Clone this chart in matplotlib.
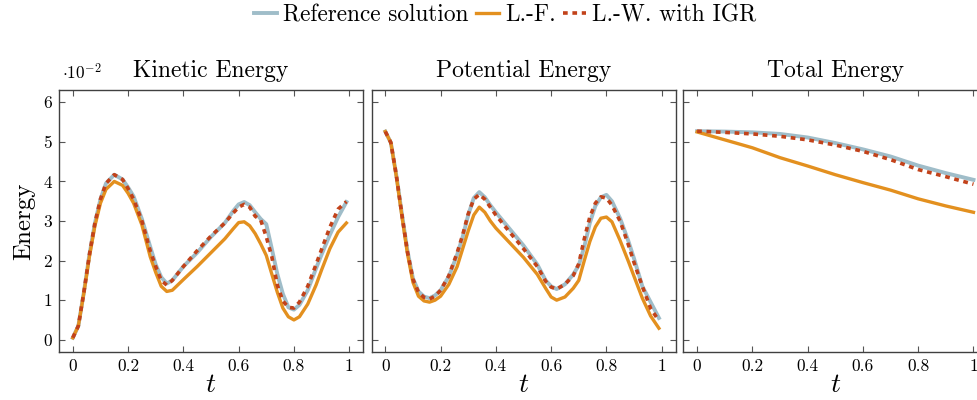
import matplotlib
matplotlib.use("Agg")
import matplotlib.pyplot as plt

plt.rcParams['font.family'] = 'serif'
plt.rcParams['font.serif'] = ['cmr10']
plt.rcParams['mathtext.fontset'] = 'cm'
plt.rcParams['axes.formatter.use_mathtext'] = True
plt.rcParams['axes.unicode_minus'] = False

# ---- data (energy values in units of 1e-2) ----
t_ke = [0.00, 0.02, 0.04, 0.06, 0.08, 0.10, 0.12, 0.15, 0.18, 0.20, 0.22, 0.25, 0.28, 0.30,
        0.32, 0.34, 0.36, 0.40, 0.45, 0.50, 0.55, 0.58, 0.60, 0.62, 0.64, 0.66, 0.68, 0.70,
        0.72, 0.74, 0.76, 0.78, 0.80, 0.82, 0.85, 0.88, 0.90, 0.93, 0.96, 0.99]
ke_ref = [0.05, 0.35, 1.20, 2.15, 2.95, 3.55, 3.95, 4.17, 4.05, 3.85, 3.62, 3.05, 2.35, 1.90,
          1.58, 1.42, 1.50, 1.85, 2.20, 2.60, 2.95, 3.25, 3.42, 3.48, 3.40, 3.22, 3.05, 2.92,
          2.30, 1.66, 1.16, 0.82, 0.76, 0.88, 1.25, 1.80, 2.15, 2.65, 3.10, 3.48]
ke_lf = [0.05, 0.35, 1.18, 2.10, 2.88, 3.45, 3.80, 4.00, 3.90, 3.70, 3.45, 2.90, 2.10, 1.70,
         1.35, 1.22, 1.25, 1.52, 1.85, 2.20, 2.55, 2.80, 2.96, 2.98, 2.88, 2.68, 2.42, 2.13,
         1.66, 1.20, 0.80, 0.58, 0.50, 0.58, 0.90, 1.38, 1.76, 2.30, 2.72, 2.95]
ke_igr = [0.05, 0.35, 1.20, 2.15, 2.95, 3.55, 3.95, 4.17, 4.05, 3.82, 3.55, 3.00, 2.25, 1.85,
          1.50, 1.38, 1.50, 1.85, 2.25, 2.62, 2.95, 3.20, 3.35, 3.42, 3.35, 3.12, 3.02, 2.60,
          2.10, 1.38, 0.98, 0.82, 0.80, 0.95, 1.35, 1.90, 2.28, 2.84, 3.30, 3.49]

t_pe = [0.00, 0.02, 0.04, 0.06, 0.08, 0.10, 0.12, 0.14, 0.16, 0.18, 0.20, 0.23, 0.26, 0.28,
        0.30, 0.32, 0.34, 0.36, 0.38, 0.40, 0.45, 0.50, 0.55, 0.58, 0.60, 0.62, 0.65, 0.68,
        0.70, 0.72, 0.74, 0.76, 0.78, 0.80, 0.82, 0.85, 0.88, 0.90, 0.93, 0.96, 0.99]
pe_ref = [5.26, 4.98, 4.15, 3.18, 2.25, 1.55, 1.22, 1.09, 1.05, 1.12, 1.25, 1.60, 2.15, 2.60,
          3.15, 3.58, 3.73, 3.60, 3.40, 3.22, 2.80, 2.38, 1.90, 1.50, 1.35, 1.28, 1.40, 1.65,
          1.88, 2.35, 2.95, 3.38, 3.60, 3.66, 3.50, 3.06, 2.48, 2.05, 1.35, 0.95, 0.55]
pe_lf = [5.26, 4.98, 4.12, 3.12, 2.18, 1.45, 1.10, 0.98, 0.95, 1.00, 1.10, 1.40, 1.85, 2.30,
         2.75, 3.15, 3.35, 3.22, 3.00, 2.82, 2.45, 2.08, 1.65, 1.30, 1.08, 1.00, 1.08, 1.30,
         1.50, 2.00, 2.48, 2.85, 3.07, 3.10, 2.98, 2.50, 1.97, 1.60, 1.05, 0.60, 0.29]
pe_igr = [5.26, 4.98, 4.15, 3.16, 2.23, 1.53, 1.20, 1.07, 1.03, 1.10, 1.25, 1.62, 2.20, 2.65,
          3.18, 3.55, 3.67, 3.55, 3.35, 3.15, 2.72, 2.30, 1.85, 1.48, 1.33, 1.28, 1.40, 1.62,
          1.92, 2.55, 3.10, 3.45, 3.61, 3.58, 3.40, 2.99, 2.39, 1.95, 1.35, 0.79, 0.48]

t_te = [0.0, 0.1, 0.2, 0.3, 0.4, 0.5, 0.6, 0.7, 0.8, 0.9, 1.0]
te_ref = [5.27, 5.26, 5.24, 5.20, 5.11, 4.97, 4.81, 4.63, 4.40, 4.21, 4.04]
te_lf = [5.25, 5.05, 4.85, 4.60, 4.39, 4.17, 3.97, 3.78, 3.56, 3.38, 3.22]
te_igr = [5.27, 5.24, 5.20, 5.14, 5.05, 4.92, 4.76, 4.55, 4.30, 4.12, 3.93]

titles = ["Kinetic Energy", "Potential Energy", "Total Energy"]
series_names = ["Reference solution", "L.-F.", "L.-W. with IGR"]
xticks = [0, 0.2, 0.4, 0.6, 0.8, 1]
xticklabels = ["0", "0.2", "0.4", "0.6", "0.8", "1"]
yticks = [0, 1, 2, 3, 4, 5, 6]
yticklabels = ["0", "1", "2", "3", "4", "5", "6"]

panels = [(t_ke, ke_ref, ke_lf, ke_igr), (t_pe, pe_ref, pe_lf, pe_igr), (t_te, te_ref, te_lf, te_igr)]

c_ref = '#9fbdc9'
c_lf = '#e3901f'
c_igr = '#c2421a'

W, H = 977, 400
fig = plt.figure(figsize=(W / 100, H / 100), dpi=100)
lefts = [59, 371.5, 683.3]
aw, ah = 304, 262
bottom = 352
for i, (t, r, lf, igr) in enumerate(panels):
    ax = fig.add_axes([lefts[i] / W, 1 - bottom / H, aw / W, ah / H])
    l1, = ax.plot(t, r, color=c_ref, lw=2.8, solid_joinstyle='round', label=series_names[0])
    l2, = ax.plot(t, lf, color=c_lf, lw=2.4, solid_joinstyle='round', label=series_names[1])
    l3, = ax.plot(t, igr, color=c_igr, lw=2.6, linestyle=(0, (1.3, 1.3)), dash_capstyle='butt',
                  dash_joinstyle='round', label=series_names[2])
    ax.set_xlim(-0.05, 1.05)
    ax.set_ylim(-0.31, 6.31)
    ax.set_xticks(xticks)
    ax.set_xticklabels(xticklabels)
    ax.set_yticks(yticks)
    if i == 0:
        ax.set_yticklabels(yticklabels)
        ax.set_ylabel("Energy", fontsize=18, labelpad=6)
    else:
        ax.set_yticklabels([])
    ax.tick_params(direction='in', top=True, right=True, length=4, width=0.8,
                   color='#555555', labelsize=12.5, pad=5)
    for s in ax.spines.values():
        s.set_color('#404040')
        s.set_linewidth(1.0)
    ax.set_title(titles[i], fontsize=17, pad=9)
    ax.set_xlabel(r"$t$", fontsize=20, labelpad=-2)

fig.text(62 / W, 1 - 72 / H, r"$\cdot 10^{-2}$", fontsize=12.5, ha='left', va='center')

fig.legend([l1, l2, l3], series_names, loc='center', bbox_to_anchor=(505 / W, 1 - 15 / H),
           ncol=3, frameon=False, fontsize=16.8, handlelength=1.0, handletextpad=0.25,
           columnspacing=0.3, borderpad=0.1)

fig.savefig("out.png", dpi=100)
